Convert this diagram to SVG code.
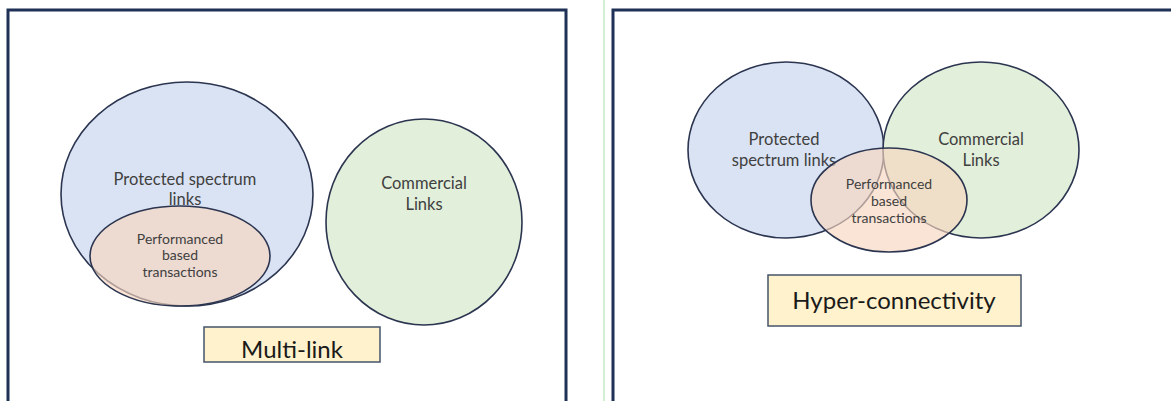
<svg xmlns="http://www.w3.org/2000/svg" width="1171" height="401" viewBox="0 0 1171 401">
  <style>
    .panel { fill: #ffffff; stroke: #1f3157; stroke-width: 3; }
    .set { stroke: #2b3550; stroke-width: 1.6; }
    .blue { fill: #dae3f3; }
    .green { fill: #e2efda; }
    .pink { fill: #f8d5bf; fill-opacity: 0.65; }
    .lbl { font-family: Lato, "Open Sans", sans-serif; fill: #404040; text-anchor: middle; }
    .big { font-size: 16.5px; }
    .small { font-size: 14px; }
    .tag { fill: #fff2cc; stroke: #44546a; stroke-width: 1.5; }
    .tagtxt { font-family: Lato, "Open Sans", sans-serif; font-size: 24px; fill: #1a1a1a; text-anchor: middle; }
  </style>
  <rect width="1171" height="401" fill="#ffffff"/>
  <line x1="604" y1="0" x2="604" y2="401" stroke="#a8e0a4" stroke-width="1"/>

  <!-- Multi-link panel -->
  <g id="multi-link-panel">
    <rect class="panel" x="8" y="10" width="558" height="400"/>
    <g id="ml-protected">
      <ellipse class="set blue" cx="187" cy="194" rx="126" ry="112"/>
      <text class="lbl big" x="185" y="185">Protected spectrum</text>
      <text class="lbl big" x="185" y="205">links</text>
    </g>
    <g id="ml-performance">
      <ellipse class="set pink" cx="180" cy="256" rx="90" ry="50"/>
      <text class="lbl small" x="180" y="244">Performanced</text>
      <text class="lbl small" x="180" y="260">based</text>
      <text class="lbl small" x="180" y="277">transactions</text>
    </g>
    <g id="ml-commercial">
      <ellipse class="set green" cx="424" cy="222" rx="98" ry="103"/>
      <text class="lbl big" x="424" y="189">Commercial</text>
      <text class="lbl big" x="424" y="210">Links</text>
    </g>
    <g id="ml-title">
      <rect class="tag" x="204" y="327" width="176" height="35"/>
      <text class="tagtxt" x="292" y="358">Multi-link</text>
    </g>
  </g>

  <!-- Hyper-connectivity panel -->
  <g id="hyper-connectivity-panel">
    <rect class="panel" x="613" y="10" width="570" height="400"/>
    <g id="hc-protected">
      <ellipse class="set blue" cx="786" cy="150" rx="98" ry="88"/>
      <text class="lbl big" x="784" y="145">Protected</text>
      <text class="lbl big" x="784" y="166">spectrum links</text>
    </g>
    <g id="hc-commercial">
      <ellipse class="set green" cx="981" cy="150" rx="98" ry="88"/>
      <text class="lbl big" x="981" y="145">Commercial</text>
      <text class="lbl big" x="981" y="166">Links</text>
    </g>
    <g id="hc-performance">
      <ellipse class="set pink" cx="889" cy="200" rx="78" ry="52"/>
      <text class="lbl small" x="889" y="189">Performanced</text>
      <text class="lbl small" x="889" y="206">based</text>
      <text class="lbl small" x="889" y="223">transactions</text>
    </g>
    <g id="hc-title">
      <rect class="tag" x="768" y="275" width="253" height="51"/>
      <text class="tagtxt" x="894" y="309">Hyper-connectivity</text>
    </g>
  </g>
</svg>
